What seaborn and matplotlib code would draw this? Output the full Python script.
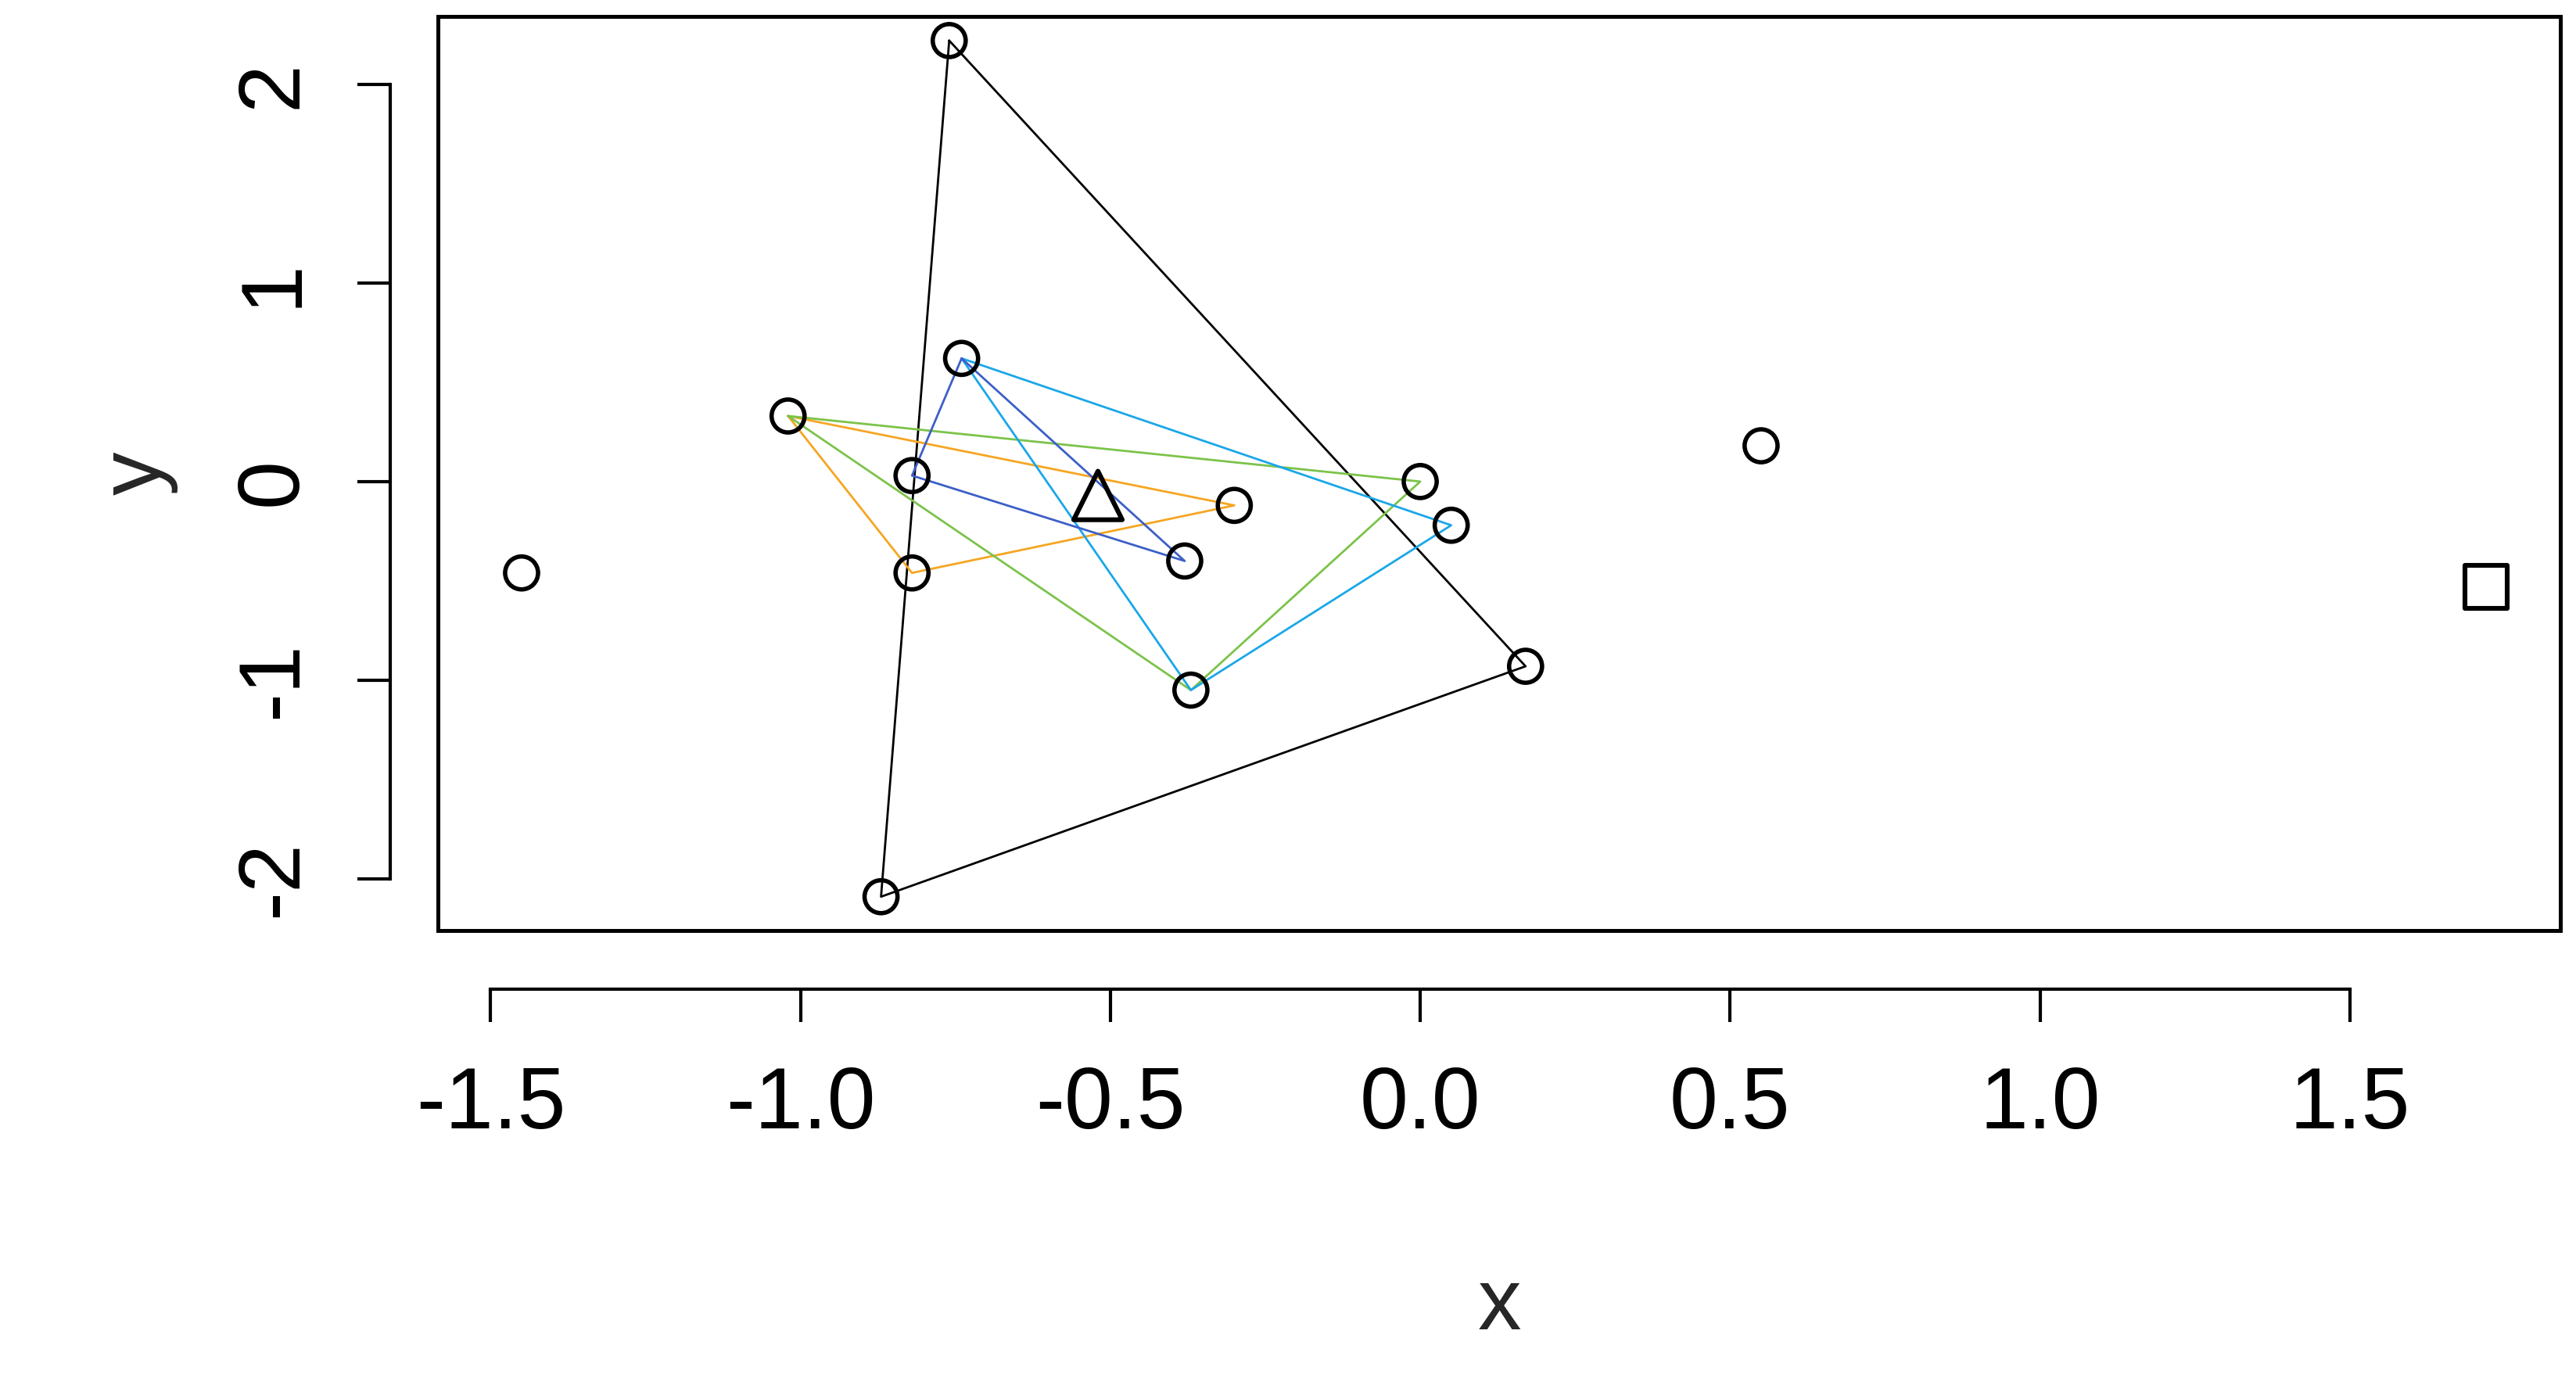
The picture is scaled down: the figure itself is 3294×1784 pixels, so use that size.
import matplotlib
matplotlib.use("Agg")
import matplotlib.pyplot as plt
import seaborn as sns
import pandas as pd
from matplotlib.patches import Rectangle

sns.set_style("white")
plt.rcParams['font.family'] = ['Liberation Sans', 'DejaVu Sans']

# circle points
px = [-0.76, -0.87, 0.17, -0.74, -1.02, -0.82, -0.82, -0.30, -0.38, -0.37, 0.00, 0.05, 0.55, -1.45]
py = [2.22, -2.09, -0.93, 0.62, 0.33, 0.03, -0.46, -0.12, -0.40, -1.05, 0.00, -0.22, 0.18, -0.46]
tri_x, tri_y = [-0.52], [-0.07]
sq_x, sq_y = [1.72], [-0.53]

# polygons (closed)
poly_black_x = [-0.76, 0.17, -0.87, -0.76]
poly_black_y = [2.22, -0.93, -2.09, 2.22]
poly_orange_x = [-1.02, -0.30, -0.82, -1.02]
poly_orange_y = [0.33, -0.12, -0.46, 0.33]
poly_green_x = [-1.02, 0.00, -0.37, -1.02]
poly_green_y = [0.33, 0.00, -1.05, 0.33]
poly_cyan_x = [-0.74, 0.05, -0.37, -0.74]
poly_cyan_y = [0.62, -0.22, -1.05, 0.62]
poly_blue_x = [-0.74, -0.38, -0.82, -0.74]
poly_blue_y = [0.62, -0.40, 0.03, 0.62]

xticks = [-1.5, -1.0, -0.5, 0.0, 0.5, 1.0, 1.5]
yticks = [-2, -1, 0, 1, 2]

fig = plt.figure(figsize=(16.47, 8.92), dpi=200)
ax = fig.add_axes([0.170, 0.333, 0.824, 0.655])

polys = [(poly_black_x, poly_black_y, "black"),
         (poly_orange_x, poly_orange_y, "#F5A623"),
         (poly_green_x, poly_green_y, "#7CC34A"),
         (poly_cyan_x, poly_cyan_y, "#1AA7E8"),
         (poly_blue_x, poly_blue_y, "#3C5FC8")]
for xs, ys, c in polys:
    df = pd.DataFrame({"x": xs, "y": ys})
    sns.lineplot(data=df, x="x", y="y", sort=False, estimator=None, color=c, lw=1.0, ax=ax)

sns.scatterplot(x=px, y=py, marker="o", s=230, facecolor="none", edgecolor="black", linewidth=2.0, ax=ax, zorder=5)
sns.scatterplot(x=tri_x, y=tri_y, marker="^", s=500, facecolor="none", edgecolor="black", linewidth=2.2, ax=ax, zorder=5)
sns.scatterplot(x=sq_x, y=sq_y, marker="s", s=380, facecolor="none", edgecolor="black", linewidth=2.2, ax=ax, zorder=5)

ax.set_xlim(-1.585, 1.84)
ax.set_ylim(-2.26, 2.34)
ax.set_xticks(xticks)
ax.set_yticks(yticks)
ax.set_xticklabels(["-1.5", "-1.0", "-0.5", "0.0", "0.5", "1.0", "1.5"])
ax.set_yticklabels(["-2", "-1", "0", "1", "2"])

for s in ["top", "right"]:
    ax.spines[s].set_visible(False)
ax.spines["bottom"].set_position(("outward", 27))
ax.spines["bottom"].set_bounds(-1.5, 1.5)
ax.spines["left"].set_position(("outward", 22))
ax.spines["left"].set_bounds(-2, 2)
for s in ["bottom", "left"]:
    ax.spines[s].set_linewidth(1.5)
    ax.spines[s].set_color("black")
ax.add_patch(Rectangle((0, 0), 1, 1, transform=ax.transAxes, fill=False, lw=1.8, ec="black", clip_on=False, zorder=10))
ax.tick_params(axis="both", bottom=True, left=True, direction="out", length=15, width=1.5,
               pad=20, labelsize=40, colors="black")
ax.tick_params(axis="y", labelrotation=90)
for t in ax.get_yticklabels():
    t.set_verticalalignment("center")

ax.set_xlabel("x", fontsize=40, labelpad=55)
ax.set_ylabel("y", fontsize=40, labelpad=25)

fig.savefig("out.png", dpi=200)
